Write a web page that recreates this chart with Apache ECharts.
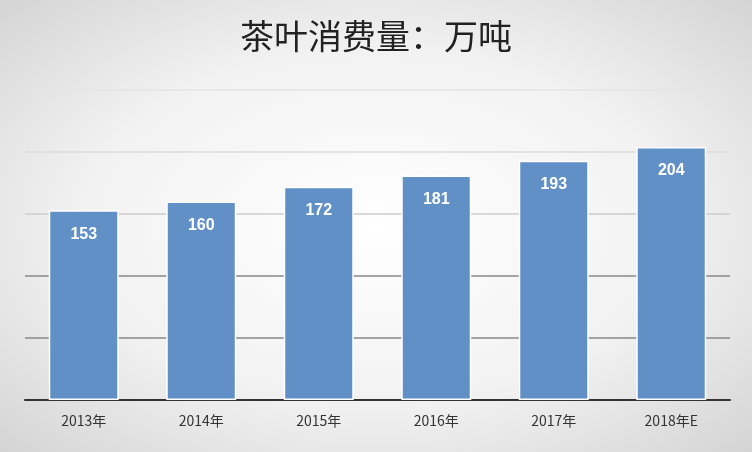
<!DOCTYPE html>
<html><head><meta charset="utf-8">
<script src="https://cdn.jsdelivr.net/npm/echarts@6/dist/echarts.min.js"></script>
<style>html,body{margin:0;padding:0}#c{width:752px;height:452px;background:radial-gradient(ellipse at center,#ffffff 0%,#f2f2f2 55%,#d4d4d4 100%)}</style>
</head><body><div id="c"></div>
<script>
var categories = ['2013年', '2014年', '2015年', '2016年', '2017年', '2018年E'];
var consumption = [153, 160, 172, 181, 193, 204];

var chart = echarts.init(document.getElementById('c'));
chart.setOption({
  animation: false,
  title: {
    text: '茶叶消费量：万吨', left: 'center', top: 14,
    textStyle: {fontFamily: 'Noto Sans CJK SC', fontSize: 34, fontWeight: 'normal', color: '#222'}
  },
  grid: {left: 25, right: 22, top: 90, bottom: 52},
  xAxis: {
    type: 'category', data: categories,
    axisLine: {lineStyle: {color: '#333', width: 2}},
    axisTick: {show: false},
    axisLabel: {color: '#333', fontSize: 14, margin: 14, fontFamily: 'Noto Sans CJK SC'}
  },
  yAxis: {
    type: 'value', min: 0, max: 250, interval: 50,
    axisLabel: {show: false}, axisLine: {show: false}, axisTick: {show: false},
    splitLine: {lineStyle: {color: ['#999', '#888', '#888', '#ccc', '#ddd', '#e4e4e4'], width: 1.5}}
  },
  series: [{
    type: 'bar', data: consumption, barWidth: 70,
    itemStyle: {color: '#6090c6', borderColor: '#fff', borderWidth: 1.5},
    label: {show: true, position: 'insideTop', distance: 16, color: '#fff', fontWeight: 'bold', fontSize: 16}
  }]
});
</script></body></html>
